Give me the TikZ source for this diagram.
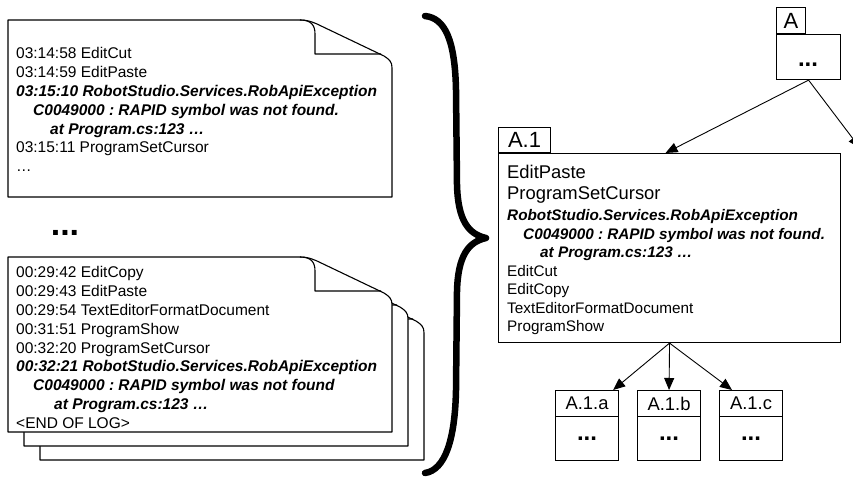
\documentclass[tikz,border=0pt]{standalone}
\usepackage{fontspec}
\setmainfont{Liberation Sans}
\usetikzlibrary{arrows.meta,calc}
\frenchspacing
\tikzset{
  doc/.style={draw, line width=1.1pt, fill=white, line join=round},
  flap/.style={draw, line width=1.1pt, line join=round},
  logtext/.style={anchor=north west, inner sep=0pt, align=left, font=\fontsize{15.5}{18.8}\selectfont},
  bigtext/.style={anchor=north west, inner sep=0pt, align=left, font=\fontsize{18.4}{21}\selectfont},
  box/.style={draw, line width=1.1pt, inner sep=0pt},
  tablabel/.style={box, font=\fontsize{22}{22}\selectfont},
  smalllabel/.style={box, font=\fontsize{18.4}{18.4}\selectfont},
  conn/.style={line width=0.9pt, -{Triangle[length=12pt,width=10pt]}},
  bracestyle/.style={line width=6.5pt, line cap=round, line join=round},
  dots/.style={font=\fontsize{24}{24}\selectfont\bfseries, inner sep=0pt},
  bigdots/.style={font=\fontsize{34}{34}\selectfont\bfseries, inner sep=0pt},
}
\newcommand\mydoc[4]{%
  \draw[doc] (#1,#2) -- ({#3-92},#2) .. controls ({#3-84},#2) and ({#3-80},{#2+2}) .. ({#3-75},{#2+4}) -- ({#3-8},{#2+36}) .. controls ({#3-2},{#2+40}) and (#3,{#2+42}) .. (#3,{#2+48}) -- (#3,#4) -- (#1,#4) -- cycle;
  \draw[flap] ({#3-92},#2) .. controls ({#3-81},#2) and ({#3-77},{#2+5}) .. ({#3-77},{#2+14}) -- ({#3-77},{#2+34}) -- ({#3-11},{#2+34});
}
\newcommand\bi[1]{\textbf{\textit{#1}}}
\begin{document}
\begin{tikzpicture}[x=1pt,y=-1pt]
\useasboundingbox (0,0) rectangle (853,479);
\clip (0,0) rectangle (853,479);

% top log document
\mydoc{8}{20}{392}{197}
\node[logtext] (log1) at (16,47.5) {03:14:58 EditCut\\
03:14:59 EditPaste\\
\bi{03:15:10 RobotStudio.Services.RobApiException}\\
\hspace*{17pt}\bi{C0049000 : RAPID symbol was not found.}\\
\hspace*{34pt}\bi{at Program.cs:123 …}\\
03:15:11 ProgramSetCursor\\
…};

\node[bigdots] (middots) at (65,233) {...};

% stacked log documents
\mydoc{40}{285}{424}{460}
\mydoc{24}{271}{408}{446}
\mydoc{8}{257}{392}{432}
\node[logtext] (log2) at (16,266.5) {00:29:42 EditCopy\\
00:29:43 EditPaste\\
00:29:54 TextEditorFormatDocument\\
00:31:51 ProgramShow\\
00:32:20 ProgramSetCursor\\
\bi{00:32:21 RobotStudio.Services.RobApiException}\\
\hspace*{17pt}\bi{C0049000 : RAPID symbol was not found}\\
\hspace*{38pt}\bi{at Program.cs:123 …}\\
<END OF LOG>};

% brace
\draw[bracestyle] (425,16) .. controls (445,18) and (455,40) .. (456,90) -- (457,185)
  .. controls (458,220) and (468,234) .. (486,238)
  .. controls (468,242) and (458,256) .. (457,291) -- (456,390)
  .. controls (455,440) and (445,470) .. (425,473);

% tree
\node[box, anchor=north west, minimum width=64, minimum height=45] (A) at (776,34) {};
\node[tablabel, anchor=south west, minimum width=29, minimum height=26] (Atab) at (776,34) {A};
\node[dots] (Adots) at (808,65) {...};

\node[box, anchor=north west, minimum width=342, minimum height=189] (a1) at (498,153) {};
\node[tablabel, anchor=south west, minimum width=52, minimum height=25] (a1tab) at (498,153) {A.1};
\node[bigtext] (a1big) at (507,165) {EditPaste\\ProgramSetCursor};
\node[logtext, font=\fontsize{15.3}{18.5}\selectfont] (a1small) at (507,209.5) {\bi{RobotStudio.Services.RobApiException}\\
\hspace*{16pt}\bi{C0049000 : RAPID symbol was not found.}\\
\hspace*{33pt}\bi{at Program.cs:123 …}\\
EditCut\\
EditCopy\\
TextEditorFormatDocument\\
ProgramShow};

\node[smalllabel, anchor=north west, minimum width=63, minimum height=26] (a1a) at (555,390) {A.1.a};
\node[box, anchor=north west, minimum width=63, minimum height=44] (a1abody) at (555,416) {};
\node[dots] (a1adots) at (a1abody.center) {...};
\node[smalllabel, anchor=north west, minimum width=63, minimum height=26] (a1b) at (637,390) {A.1.b};
\node[box, anchor=north west, minimum width=63, minimum height=44] (a1bbody) at (637,416) {};
\node[dots] (a1bdots) at (a1bbody.center) {...};
\node[smalllabel, anchor=north west, minimum width=63, minimum height=26] (a1c) at (719,390) {A.1.c};
\node[box, anchor=north west, minimum width=63, minimum height=44] (a1cbody) at (719,416) {};
\node[dots] (a1cdots) at (a1cbody.center) {...};

\coordinate (offpage) at (860,148);
\draw[conn] (A.south) -- ($(a1.north)+(-4,0)$);
\draw[conn] (A.south) -- (offpage);
\draw[conn] (a1.south) -- ($(a1a.north east)+(-6,0)$);
\draw[conn] (a1.south) -- (a1b.north);
\draw[conn] (a1.south) -- ($(a1c.north west)+(13,0)$);
\end{tikzpicture}
\end{document}
